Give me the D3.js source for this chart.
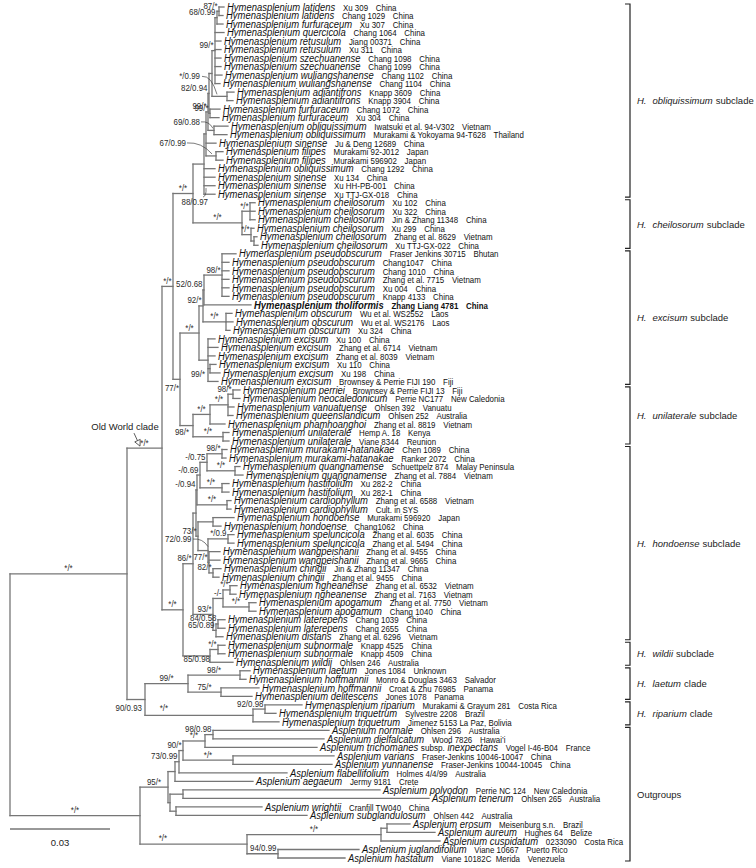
<!DOCTYPE html>
<html>
<head>
<meta charset="utf-8">
<script src="https://cdn.jsdelivr.net/npm/d3@7"></script>
<style>
html,body{margin:0;padding:0;background:#fff;}
svg{display:block;font-family:"Liberation Sans",Arial,Helvetica,sans-serif;}
</style>
</head>
<body>
<svg id="chart" width="756" height="868"></svg>
<script>
// ---------------- DATA ----------------
const taxa = [
"Hymenasplenium latidens","Hymenasplenium latidens","Hymenasplenium furfuraceum","Hymenasplenium quercicola",
"Hymenasplenium retusulum","Hymenasplenium retusulum","Hymenasplenium szechuanense","Hymenasplenium szechuanense",
"Hymenasplenium wuliangshanense","Hymenasplenium wuliangshanense","Hymenasplenium adiantifrons","Hymenasplenium adiantifrons",
"Hymenasplenium furfuraceum","Hymenasplenium furfuraceum","Hymenasplenium obliquissimum","Hymenasplenium obliquissimum",
"Hymenasplenium sinense","Hymenasplenium filipes","Hymenasplenium filipes","Hymenasplenium obliquissimum",
"Hymenasplenium sinense","Hymenasplenium sinense","Hymenasplenium sinense",
"Hymenasplenium cheilosorum","Hymenasplenium cheilosorum","Hymenasplenium cheilosorum","Hymenasplenium cheilosorum",
"Hymenasplenium cheilosorum","Hymenasplenium cheilosorum",
"Hymenasplenium pseudobscurum","Hymenasplenium pseudobscurum","Hymenasplenium pseudobscurum","Hymenasplenium pseudobscurum",
"Hymenasplenium pseudobscurum","Hymenasplenium pseudobscurum","Hymenasplenium tholiformis",
"Hymenasplenium obscurum","Hymenasplenium obscurum","Hymenasplenium obscurum",
"Hymenasplenium excisum","Hymenasplenium excisum","Hymenasplenium excisum","Hymenasplenium excisum","Hymenasplenium excisum","Hymenasplenium excisum",
"Hymenasplenium perriei","Hymenasplenium neocaledonicum","Hymenasplenium vanuatuense","Hymenasplenium queenslandicum",
"Hymenasplenium phamhoanghoi","Hymenasplenium unilaterale","Hymenasplenium unilaterale",
"Hymenasplenium murakami-hatanakae","Hymenasplenium murakami-hatanakae","Hymenasplenium quangnamense","Hymenasplenium quangnamense",
"Hymenasplenium hastifolium","Hymenasplenium hastifolium","Hymenasplenium cardiophyllum","Hymenasplenium cardiophyllum",
"Hymenasplenium hondoense","Hymenasplenium hondoense","Hymenasplenium speluncicola","Hymenasplenium speluncicola",
"Hymenasplenium wangpeishanii","Hymenasplenium wangpeishanii","Hymenasplenium chingii","Hymenasplenium chingii",
"Hymenasplenium ngheanense","Hymenasplenium ngheanense","Hymenasplenium apogamum","Hymenasplenium apogamum",
"Hymenasplenium laterepens","Hymenasplenium laterepens","Hymenasplenium distans",
"Hymenasplenium subnormale","Hymenasplenium subnormale","Hymenasplenium wildii",
"Hymenasplenium laetum","Hymenasplenium hoffmannii","Hymenasplenium hoffmannii","Hymenasplenium delitescens",
"Hymenasplenium riparium","Hymenasplenium triquetrum","Hymenasplenium triquetrum",
"Asplenium normale","Asplenium dielfalcatum","Asplenium trichomanes subsp. inexpectans","Asplenium varians",
"Asplenium yunnanense","Asplenium flabellifolium","Asplenium aegaeum","Asplenium polyodon","Asplenium tenerum",
"Asplenium wrightii","Asplenium subglandulosum","Asplenium erosum","Asplenium aureum","Asplenium cuspidatum",
"Asplenium juglandifolium","Asplenium hastatum"
];
const vouchers = [
"Xu 309","Chang 1029","Xu 307","Chang 1064","Jiang 00371","Xu 311","Chang 1098","Chang 1099","Chang 1102","Chang 1104",
"Knapp 3609","Knapp 3904","Chang 1072","Xu 304","Iwatsuki et al. 94-V302","Murakami & Yokoyama 94-T628","Ju & Deng 12689",
"Murakami 92-J012","Murakami 596902","Chang 1292","Xu 134","Xu HH-PB-001","Xu TTJ-GX-018",
"Xu 102","Xu 322","Jin & Zhang 11348","Xu 299","Zhang et al. 8629","Xu TTJ-GX-022",
"Fraser Jenkins 30715","Chang1047","Chang 1010","Zhang et al. 7715","Xu 004","Knapp 4133","Zhang Liang 4781",
"Wu et al. WS2552","Wu et al. WS2176","Xu 324",
"Xu 100","Zhang et al. 6714","Zhang et al. 8039","Xu 110","Xu 198","Brownsey & Perrie FIJI 190",
"Brownsey & Perrie FIJI 13","Perrie NC177","Ohlsen 392","Ohlsen 252","Zhang et al. 8819","Hemp A. 18","Viane 8344",
"Chen 1089","Ranker 2072","Schuettpelz 874","Zhang et al. 7884","Xu 282-2","Xu 282-1","Zhang et al. 6588","Cult. in SYS",
"Murakami 596920","Chang1062","Zhang et al. 6035","Zhang et al. 5494","Zhang et al. 9455","Zhang et al. 9665",
"Jin & Zhang 11347","Zhang et al. 9455","Zhang et al. 6532","Zhang et al. 7163","Zhang et al. 7750","Chang 1040",
"Chang 1039","Chang 2655","Zhang et al. 6296","Knapp 4525","Knapp 4509","Ohlsen 246",
"Jones 1084","Monro & Douglas 3463","Croat & Zhu 76985","Jones 1078",
"Murakami & Grayum 281","Sylvestre 2208","Jimenez 5153 La Paz, Bolivia",
"Ohlsen 296","Wood 7826","Vogel I-46-B04","Fraser-Jenkins 10046-10047","Fraser-Jenkins 10044-10045","Holmes 4/4/99",
"Jermy 9181","Perrie NC 124","Ohlsen 265","Cranfill TW040","Ohlsen 442","Meisenburg s.n.","Hughes 64","0233090",
"Viane 10667","Viane 10182C  Merida"
];
const countries = [
"China","China","China","China","China","China","China","China","China","China",
"China","China","China","China","Vietnam","Thailand","China","Japan","Japan","China","China","China","China",
"China","China","China","China","Vietnam","China",
"Bhutan","China","China","Vietnam","China","China","China","Laos","Laos","China",
"China","Vietnam","Vietnam","China","China","Fiji",
"Fiji","New Caledonia","Vanuatu","Australia","Vietnam","Kenya","Reunion",
"China","China","Malay Peninsula","Vietnam","China","China","Vietnam","",
"Japan","China","China","China","China","China","China","China","Vietnam","Vietnam","Vietnam","China",
"China","China","Vietnam","China","China","Australia",
"Unknown","Salvador","Panama","Panama","Costa Rica","Brazil","",
"Australia","Hawai\u2019i","France","China","China","Australia","Crete","New Caledonia","Australia","China","Australia",
"Brazil","Belize","Costa Rica","Puerto Rico","Venezuela"
];
const highlightTaxon = "Hymenasplenium tholiformis";

// tree topology with branch lengths (substitutions/site); leaves Ln = row n
const nwkObliquissimum = "((((((((L1:0.0015,L2:0.0012)Nh:0.0006,L3:0.0018)Ng:0.0006,L4:0.0027,L5:0.0018,L6:0.0018,L7:0.0018,L8:0.0018,L9:0.0021,L10:0.0015)Nf:0.0009,(L11:0.0021,L12:0.0018)Nadi:0.0045)Ne:0.0009,(L13:0.0030,L14:0.0027)Nfur:0.0003)Nd:0.0003,(L15:0.0042,L16:0.0039)Nobq:0.0018)Nc:0.0006,L17:0.0030,(L18:0.0021,L19:0.0021)Nfil:0.0030)Nb:0.0006,L20:0.0033,L21:0.0033,L22:0.0033,L23:0.0033)OBL";
const nwkCheilosorum = "((L24:0.0015,L25:0.0015,L26:0.0015)C1:0.0024,(L27:0.0009,(L28:0.0009,L29:0.0012)C3:0.0009)C2:0.0027)CHE";
const nwkExcisum = "((((L30:0.0042,L31:0.0021,L32:0.0021,L33:0.0021,L34:0.0021,L35:0.0021)Epse:0.0054,L36:0.0141)E2:0.0003,(L37:0.0018,L38:0.0021,L39:0.0012)Eobs:0.0069)E1:0.0012,(L40:0.0021,L41:0.0030,L42:0.0021,(L43:0.0018,L44:0.0030)Nex:0.0006,L45:0.0030)EX:0.0027)E0";
const nwkUnilaterale = "((((L46:0.0021,L47:0.0021)Nper:0.0015,L48:0.0018,L49:0.0015)U2:0.0054,L50:0.0045)U1:0.0051,(L51:0.0018,L52:0.0018)Uuni:0.0090)U0";
const nwkHondoense = "((((((L53:0.0015,L54:0.0012)Nmur:0.0045,(L55:0.0015,L56:0.0024)Nqua:0.0084)H2b:0.0021,(L57:0.0021,L58:0.0021)Nhas:0.0066)H2a:0.0009,(L59:0.0012,L60:0.0012)Ncar:0.0090)H2:0.0003,((L61:0.0063,L62:0.0024)Nhon:0.0045,((L63:0.0018,L64:0.0018)Nspe:0.0060,(L65:0.0033,L66:0.0033,(L67:0.0024,L68:0.0018)Nchi:0.0012)H6:0.0003)H5:0.0030)H4:0.0006)Hup:0.0009,(((L69:0.0021,L70:0.0018)Nngh:0.0021,(L71:0.0021,L72:0.0021)Napo:0.0078)Nna:0.0030,((L73:0.0021,L74:0.0021)Nlat:0.0006,L75:0.0021)Nld:0.0009)H3:0.0060)H1";
const nwkWildii = "((L76:0.0021,L77:0.0021)Nsub:0.0024,L78:0.0069)Hwil";
const nwkNewWorld = "(((L79:0.0030,L80:0.0018)Nlh:0.0156,(L81:0.0114,L82:0.0093)Nhd:0.0099)Laet:0.0129,((L83:0.0111,L84:0.0033)Nrt:0.0036,L85:0.0078)Rip:0.0324)NW";
const nwkOutgroup1 = "((((((L86:0.0348,L87:0.0333)Nnd:0.0024,L88:0.0336)Nndt:0.0066,(L89:0.0303,L90:0.0297)Nvy:0.0150)N90:0.0012,L91:0.0324)N73:0.0012,L92:0.0234)Nae:0.0021,((L93:0.0591,L94:0.0738)Npt:0.0039,(L95:0.0258,L96:0.0393)Nws:0.0018)OG1b:0.0006)OG1";
const nwkOutgroup2 = "(((L97:0.0069,L98:0.0144)Nea:0.0018,L99:0.0177)Neac:0.0402,(L100:0.0243,L101:0.0201)Njh:0.0093)OG2";
const treeNewick = `(((((${nwkObliquissimum}:0.0033,${nwkCheilosorum}:0.0147)N193:0.0060,(${nwkExcisum}:0.0057,${nwkUnilaterale}:0.0039)N180:0.0021)N173:0.0033,(${nwkHondoense}:0.0030,${nwkWildii}:0.0081)H0:0.0063)OW:0.0105,${nwkNewWorld}:0.0054)Hym:0.0351,(${nwkOutgroup1}:0.0084,${nwkOutgroup2}:0.0321)OG:0.0390)R;`;

// support values (ML bootstrap / Bayesian PP)
const supports = {
 Hym:"*/*", OW:"*/*", N173:"*/*", N193:"*/*", OBL:"88/0.97", Nfil:"67/0.99", Nc:"99/*", Nd:"82/0.94",
 Nadi:"*/0.99", Nf:"99/*", Ng:"68/0.99", Nh:"87/*", Nfur:"99/*", Nobq:"69/0.88",
 CHE:"*/*", C1:"*/*", C2:"*/*", N180:"77/*", E0:"*/*", E1:"92/*", E2:"52/0.68", Epse:"98/*", Eobs:"*/*",
 Nex:"99/*", U0:"98/*", U1:"*/*", U2:"*/*", Nper:"98/*", Uuni:"*/*",
 H0:"*/*", H1:"86/*", H2:"-/0.94", H2a:"-/0.69", H2b:"-/0.75", Nmur:"98/*", Nqua:"*/*", Nhas:"*/*", Ncar:"*/*",
 H4:"73/*", H5:"72/0.99", Nspe:"*/0.9", H6:"77/*", Nchi:"82/*", H3:"93/*", Nna:"-/-", Nngh:"*/*", Napo:"*/*",
 Nld:"65/0.89", Nlat:"84/0.58", Hwil:"85/0.98", Nsub:"*/*",
 NW:"90/0.93", Laet:"99/*", Nlh:"98/*", Nhd:"75/*", Rip:"*/*", Nrt:"92/0.98",
 OG:"*/*", OG1:"95/*", N73:"73/0.99", N90:"90/*", Nndt:"*/*", Nnd:"98/0.98", Nvy:"*/*",
 OG2:"*/*", Neac:"*/*", Njh:"94/0.99"
};

const cladeEpithets = ["obliquissimum","cheilosorum","excisum","unilaterale","hondoense","wildii","laetum","riparium",""];
const cladeRanks = ["subclade","subclade","subclade","subclade","subclade","subclade","clade","clade","Outgroups"];
const cladeFirst = [1,24,30,46,53,76,79,83,86];
const cladeLast  = [23,29,45,52,75,78,82,85,101];
const scaleBarValue = 0.03;
const scaleBarLabel = "0.03";

// ---------------- LAYOUT (not data) ----------------
// text end anchor t, optional leader start s / end e, relative to node
const labelLayout = {
 Nadi:{t:[-27,-17], s:[-25,-20], e:[-10,-2]},
 Nobq:{t:[-14,-5.5], s:[-13,-8.5], e:[-1,-2]},
 Nfil:{t:[-30,-10], s:[-29,-13], e:[-4,-2]},
 OBL:{t:[4,41], s:[-1,33], e:[2,24]},
 H5:{t:[-16.5,-8.5], s:[-15,-11.5], e:[0,-4]},
 NW:{t:[-3,11]},
 Rip:{t:[-85,-4]},
 OG2:{t:[-80,-3]},
 U0:{t:[-4,9.5]},
 Nex:{t:[-5,8.5]},
 N180:{t:[-1,11.5]},
 Hwil:{t:[0,6.5]}
};

function parseNewick(s){
  let i = 0;
  function node(){
    const n = {};
    if (s[i] === "("){
      i++; n.children = [node()];
      while (s[i] === ","){ i++; n.children.push(node()); }
      i++;
    }
    let name = "";
    while (i < s.length && !":,);".includes(s[i])) name += s[i++];
    n.name = name.trim();
    n.length = 0;
    if (s[i] === ":"){
      i++; let num = "";
      while (i < s.length && !",);".includes(s[i])) num += s[i++];
      n.length = +num;
    }
    return n;
  }
  return node();
}

const svg = d3.select("#chart");
const x = d3.scaleLinear().domain([0, scaleBarValue]).range([10, 110]);
const y = d3.scalePoint().domain(d3.range(1, taxa.length + 1)).range([7, 858]);

const root = d3.hierarchy(parseNewick(treeNewick));
root.each(d => { d.dist = d.parent ? d.parent.dist + d.data.length : 0; });
root.eachAfter(d => {
  d.px = x(d.dist);
  d.py = d.children ? (d.children[0].py + d.children[d.children.length - 1].py) / 2
                    : y(+d.data.name.slice(1));
});
const nodeBy = {};
root.each(d => { nodeBy[d.data.name] = d; });

// branches
const gTree = svg.append("g").attr("fill", "none").attr("stroke", "#767676")
  .attr("stroke-width", 1.3).attr("stroke-linecap", "square");
gTree.selectAll("path.v").data(root.descendants().filter(d => d.children)).join("path")
  .attr("class", "v")
  .attr("d", d => `M${d.px},${d.children[0].py}V${d.children[d.children.length - 1].py}`);
gTree.selectAll("path.h").data(root.links()).join("path")
  .attr("class", "h")
  .attr("d", l => `M${l.source.px},${l.target.py}H${l.target.px}`);

// leaf labels
const SX = 0.86;
const gLab = svg.append("g").attr("fill", "#111");
root.leaves().forEach(d => {
  const i = +d.data.name.slice(1) - 1;
  const bold = taxa[i] === highlightTaxon;
  const t = gLab.append("text")
    .attr("transform", `translate(${d.px + 3},${d.py + 3.7}) scale(${SX},1)`)
    .attr("font-weight", bold ? "bold" : null);
  const parts = taxa[i].split(" subsp. ");
  t.append("tspan").attr("font-style", "italic").attr("font-size", 11).text(parts[0]);
  if (parts[1]){
    t.append("tspan").attr("font-size", 9.5).attr("dx", 3).text("subsp.");
    t.append("tspan").attr("font-style", "italic").attr("font-size", 11).attr("dx", 3).text(parts[1]);
  }
  t.append("tspan").attr("font-size", 9.2).attr("dx", 9).style("white-space", "pre").text(vouchers[i]);
  if (countries[i]) t.append("tspan").attr("font-size", 9.2).attr("dx", 9).text(countries[i]);
});

// support values
const SXS = 0.88;
const gSup = svg.append("g").attr("fill", "#2b2b2b").attr("font-size", 9);
const gLead = svg.append("g").attr("fill", "none").attr("stroke", "#444").attr("stroke-width", 0.7);
root.descendants().filter(d => supports[d.data.name]).forEach(d => {
  const txt = supports[d.data.name];
  const c = labelLayout[d.data.name];
  const t = gSup.append("text").text(txt);
  const w = t.node().getComputedTextLength() * SXS;
  let ax, ay;
  if (c){
    ax = d.px + c.t[0] - w; ay = d.py + c.t[1];
    if (c.s){
      const sx0 = d.px + c.s[0], sy0 = d.py + c.s[1], ex = d.px + c.e[0], ey = d.py + c.e[1];
      gLead.append("path").attr("d", `M${sx0},${sy0}Q${(sx0 + ex) / 2 + 2},${sy0 - 1} ${ex},${ey}`);
    }
  } else {
    const pX = d.parent ? d.parent.px : d.px;
    const br = d.px - pX;
    ax = br >= w + 6 ? (pX + d.px) / 2 - w / 2 : d.px - 1.5 - w;
    ay = d.py - 2.5;
  }
  t.attr("transform", `translate(${ax},${ay}) scale(${SXS},1)`);
});

// Old World clade annotation
const ow = nodeBy["OW"];
svg.append("text").attr("x", ow.px - 37).attr("y", ow.py - 18).attr("text-anchor", "middle")
  .attr("font-size", 9.5).attr("fill", "#222").text("Old World clade");
{
  const x1 = ow.px - 28, y1 = ow.py - 15, x2 = ow.px - 22, y2 = ow.py - 2;
  const ang = Math.atan2(y2 - y1, x2 - x1);
  const L = 6, W = 3;
  const bx = x2 - L * Math.cos(ang), by = y2 - L * Math.sin(ang);
  svg.append("line").attr("x1", x1).attr("y1", y1).attr("x2", bx).attr("y2", by)
    .attr("stroke", "#333").attr("stroke-width", 0.8);
  svg.append("path").attr("d",
    `M${x2},${y2}L${bx + W * Math.sin(ang)},${by - W * Math.cos(ang)}L${bx - W * Math.sin(ang)},${by + W * Math.cos(ang)}Z`)
    .attr("fill", "#fff").attr("stroke", "#333").attr("stroke-width", 0.8);
}

// clade brackets
const BX = 630;
const gBr = svg.append("g");
cladeEpithets.forEach((ep, k) => {
  const y1 = y(cladeFirst[k]) - 3, y2 = y(cladeLast[k]) + 3;
  gBr.append("path").attr("d", `M${BX - 5},${y1}H${BX}V${y2}H${BX - 5}`)
    .attr("fill", "none").attr("stroke", "#222").attr("stroke-width", 1.2);
  const t = gBr.append("text").attr("x", BX + 7).attr("y", (y1 + y2) / 2 + 3.5)
    .attr("font-size", 9.5).attr("fill", "#222");
  if (ep){
    t.append("tspan").attr("font-style", "italic").text("H.");
    t.append("tspan").attr("font-style", "italic").attr("dx", 6).text(ep);
    t.append("tspan").attr("dx", 3).text(cladeRanks[k]);
  } else {
    t.text(cladeRanks[k]);
  }
});

// scale bar
const sbY = 829;
svg.append("line").attr("x1", x(0)).attr("x2", x(scaleBarValue)).attr("y1", sbY).attr("y2", sbY)
  .attr("stroke", "#333").attr("stroke-width", 1);
svg.append("text").attr("x", (x(0) + x(scaleBarValue)) / 2).attr("y", sbY + 17).attr("text-anchor", "middle")
  .attr("font-size", 9.5).attr("fill", "#222").text(scaleBarLabel);
</script>
</body>
</html>
